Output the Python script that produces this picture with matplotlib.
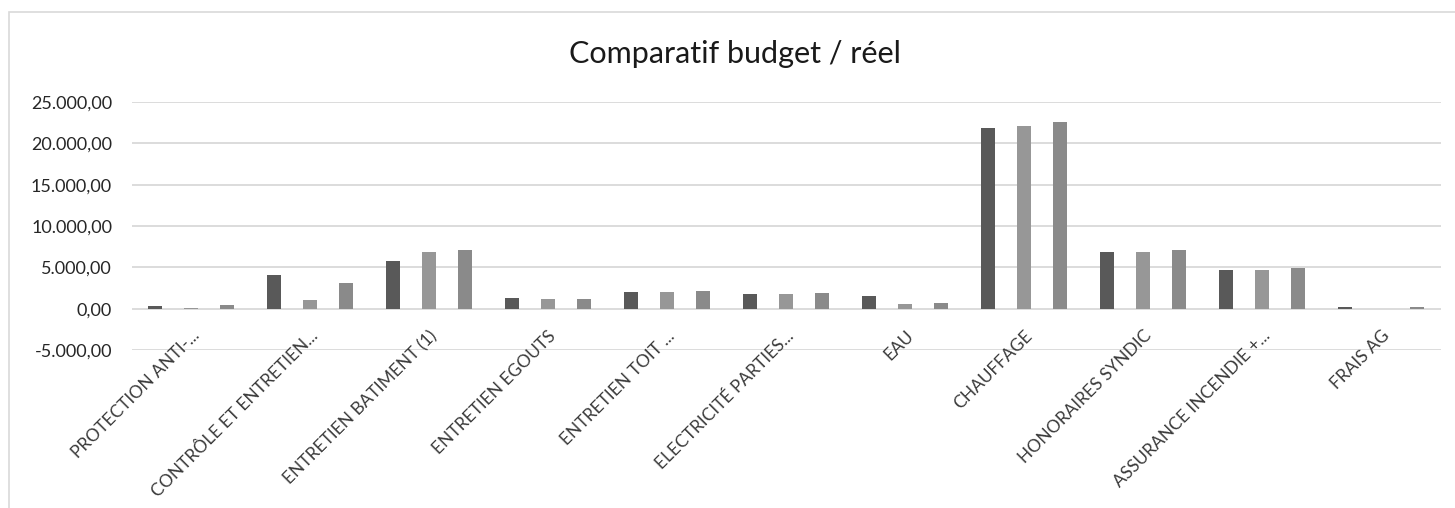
import matplotlib.pyplot as plt
import matplotlib.patches as patches
import matplotlib.transforms as mtrans
from matplotlib.ticker import FuncFormatter
import numpy as np

# Données
categories = ["PROTECTION ANTI-...", "CONTRÔLE ET ENTRETIEN...", "ENTRETIEN BATIMENT (1)",
              "ENTRETIEN EGOUTS", "ENTRETIEN TOIT ...", "ELECTRICITÉ PARTIES...", "EAU",
              "CHAUFFAGE", "HONORAIRES SYNDIC", "ASSURANCE INCENDIE +...", "FRAIS AG"]
serie_1 = [280, 4080, 5770, 1250, 2060, 1735, 1490, 21900, 6900, 4640, 200]
serie_2 = [100, 1050, 6900, 1170, 2060, 1735, 565, 22140, 6900, 4640, 0]
serie_3 = [400, 3070, 7140, 1170, 2140, 1900, 645, 22590, 7140, 4880, 240]
couleurs = ["#595959", "#979797", "#8a8a8a"]
titre = "Comparatif budget / réel"

plt.rcParams['font.family'] = ['Lato', 'DejaVu Sans']

W, H = 1455, 508
fig = plt.figure(figsize=(W / 100, H / 100), dpi=100)
ax = fig.add_axes([131.5 / W, 1 - 350 / H, 1309 / W, 248 / H])

x = np.arange(len(categories))
largeur = 0.12
for k, (serie, c) in enumerate(zip([serie_1, serie_2, serie_3], couleurs)):
    ax.bar(x + (k - 1) * 0.30, serie, width=largeur, color=c, zorder=3)

ax.set_xlim(-0.5, len(categories) - 0.5)
ax.set_ylim(-5000, 25000)
ax.set_yticks(np.arange(-5000, 25001, 5000))

def fmt(v, pos):
    s = f"{v:,.2f}"
    return s.replace(",", " ").replace(".", ",").replace(" ", ".")

ax.yaxis.set_major_formatter(FuncFormatter(fmt))
ax.tick_params(axis='y', length=0, pad=14, labelsize=13, labelcolor="#262626")
ax.set_xticks([])
ax.grid(axis='y', color="#d9d9d9", linewidth=1.3, zorder=0)
for s in ax.spines.values():
    s.set_visible(False)

# étiquettes de catégories, ancrées sous la ligne du zéro
decal = mtrans.ScaledTranslation(0 / 100, -19 / 100, fig.dpi_scale_trans)
for i, nom in enumerate(categories):
    ax.text(i, 0, nom, rotation=45, ha='right', va='top', rotation_mode='anchor',
            fontsize=12.5, color="#3a3a3a", transform=ax.transData + decal)

fig.text(735 / W, 1 - 54 / H, titre, ha='center', va='center', fontsize=22, color="#1a1a1a")

# cadre du graphique
fig.patches.append(patches.Rectangle((9 / W, -0.1), 1.2, 1 - 12 / H + 0.1, transform=fig.transFigure,
                                     fill=False, edgecolor="#d9d9d9", linewidth=1.2))

fig.savefig("out.png", dpi=100)
